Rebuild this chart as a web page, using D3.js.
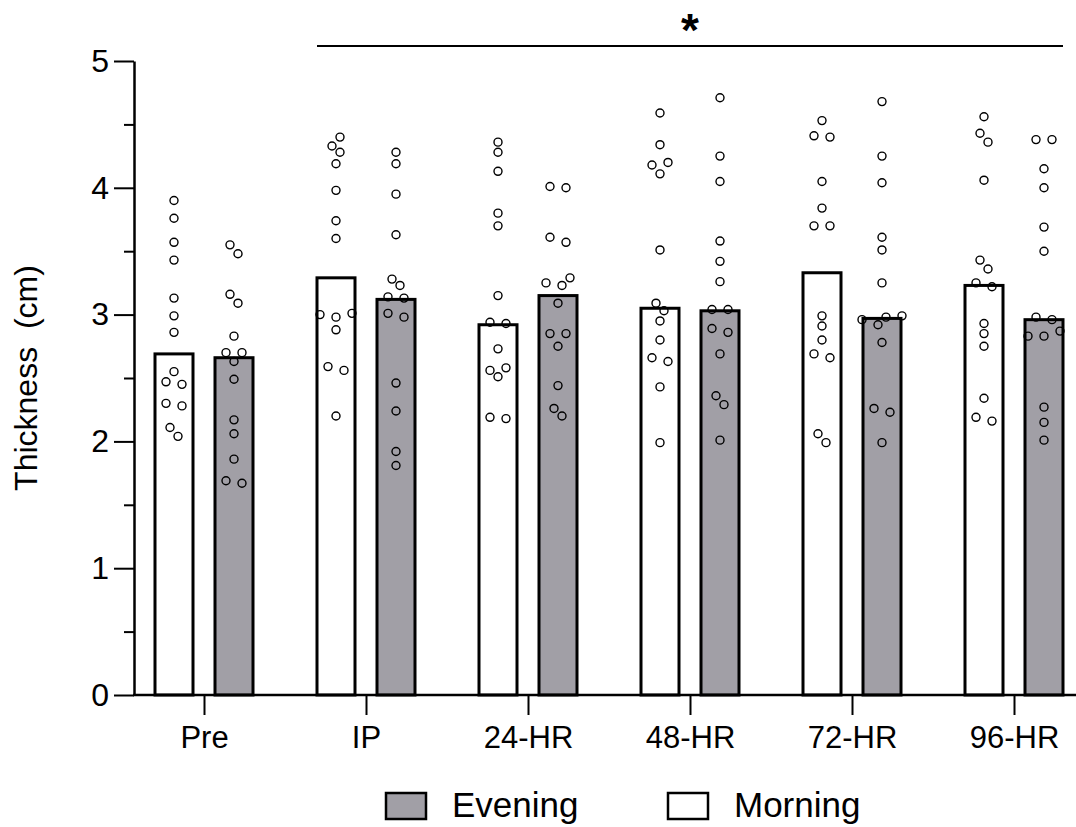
<!DOCTYPE html>
<html>
<head>
<meta charset="utf-8">
<script src="https://cdn.jsdelivr.net/npm/d3@7"></script>
<style>
  body { margin: 0; background: #fff; }
  svg { display: block; font-family: "Liberation Sans", Arial, sans-serif; }
</style>
</head>
<body>
<div id="chart"></div>
<script>
// categories
var timepoints = ["Pre", "IP", "24-HR", "48-HR", "72-HR", "96-HR"];
var legendItems = ["Evening", "Morning"];

// bar heights (median)
var morningBars = [2.69, 3.29, 2.92, 3.05, 3.33, 3.23];
var eveningBars = [2.66, 3.12, 3.15, 3.03, 2.97, 2.96];

// individual subjects, one list per time point
var morningPoints = [
    [3.90, 3.76, 3.57, 3.43, 3.13, 2.99, 2.86, 2.55, 2.45, 2.47, 2.28, 2.30, 2.11, 2.04],
    [4.40, 4.33, 4.28, 4.19, 3.98, 3.74, 3.60, 3.00, 2.98, 3.01, 2.88, 2.56, 2.59, 2.20],
    [4.36, 4.28, 4.13, 3.80, 3.70, 3.15, 2.94, 2.93, 2.73, 2.58, 2.51, 2.56, 2.18, 2.19],
    [4.59, 4.34, 4.18, 4.20, 4.11, 3.51, 3.09, 3.03, 2.95, 2.80, 2.63, 2.66, 2.43, 1.99],
    [4.53, 4.40, 4.41, 4.05, 3.84, 3.70, 3.70, 2.99, 2.91, 2.80, 2.66, 2.69, 2.06, 1.99],
    [4.56, 4.43, 4.36, 4.06, 3.43, 3.36, 3.22, 3.25, 2.93, 2.85, 2.75, 2.34, 2.16, 2.19]
];
var eveningPoints = [
    [3.55, 3.48, 3.16, 3.09, 2.83, 2.70, 2.70, 2.63, 2.49, 2.17, 2.06, 1.86, 1.69, 1.67],
    [4.28, 4.19, 3.95, 3.63, 3.28, 3.23, 3.13, 3.14, 2.98, 3.01, 2.46, 2.24, 1.92, 1.81],
    [4.00, 4.01, 3.57, 3.61, 3.25, 3.29, 3.23, 3.09, 2.85, 2.85, 2.75, 2.44, 2.26, 2.20],
    [4.71, 4.25, 4.05, 3.58, 3.42, 3.26, 3.04, 3.04, 2.86, 2.89, 2.69, 2.36, 2.29, 2.01],
    [4.68, 4.25, 4.04, 3.61, 3.51, 3.25, 2.96, 2.99, 2.98, 2.92, 2.78, 2.26, 2.23, 1.99],
    [4.38, 4.38, 4.15, 4.00, 3.69, 3.50, 2.98, 2.96, 2.87, 2.83, 2.83, 2.27, 2.15, 2.01]
];

// axis ticks
var yTicks = [0, 1, 2, 3, 4, 5];
var yMinorTicks = [0.5, 1.5, 2.5, 3.5, 4.5];
var yTitle = "Thickness  (cm)";
var sigMark = "*";

//Width and height
var w = 1076;
var h = 827;
var barW = 38;
var barOff = 30;
var dotR = 4;
var grey = "#a19fa6";

var svg = d3.select("#chart")
    .append("svg")
    .attr("width", w)
    .attr("height", h);

//Scales
var xScale = d3.scalePoint()
    .domain(timepoints)
    .range([204, 1014]);

var yScale = d3.scaleLinear()
    .domain([0, 5])
    .range([695, 61]);

// simple beeswarm: place low values first, push sideways on collision,
// then centre every row of touching points under the bar
function swarm(values) {
    var minD = 9.5, step = 8;
    var pts = values.map(function(v) { return {v: v, y: yScale(v), dx: 0}; });
    var order = pts.slice().sort(function(a, b) { return a.v - b.v; });
    var placed = [];
    order.forEach(function(p) {
        for (var k = 0; k < 20; k++) {
            var off = k === 0 ? 0 : (k % 2 ? -1 : 1) * Math.ceil(k / 2) * step;
            var ok = placed.every(function(q) {
                return (q.dx - off) * (q.dx - off) + (q.y - p.y) * (q.y - p.y) >= minD * minD;
            });
            if (ok) { p.dx = off; break; }
        }
        placed.push(p);
    });
    var groups = [], cur = [];
    order.forEach(function(p, i) {
        if (i > 0 && Math.abs(order[i - 1].y - p.y) >= minD) { groups.push(cur); cur = []; }
        cur.push(p);
    });
    groups.push(cur);
    groups.forEach(function(g) {
        if (g.length < 2) return;
        var lo = d3.min(g, function(p) { return p.dx; });
        var hi = d3.max(g, function(p) { return p.dx; });
        g.forEach(function(p) { p.dx -= (lo + hi) / 2; });
    });
    return pts;
}

var series = [
    {name: "Morning", bars: morningBars, points: morningPoints, off: -barOff, fill: "#fff"},
    {name: "Evening", bars: eveningBars, points: eveningPoints, off: barOff, fill: grey}
];

//Bars
series.forEach(function(s) {
    svg.append("g")
        .selectAll("rect")
        .data(s.bars)
        .enter()
        .append("rect")
        .attr("x", function(d, i) { return xScale(timepoints[i]) + s.off - barW / 2; })
        .attr("y", function(d) { return yScale(d); })
        .attr("width", barW)
        .attr("height", function(d) { return yScale(0) - yScale(d); })
        .attr("fill", s.fill)
        .attr("stroke", "#000")
        .attr("stroke-width", 3);
});

//Create X axis
svg.append("g")
    .attr("class", "axis")
    .attr("transform", "translate(0," + yScale(0) + ")")
    .call(d3.axisBottom(xScale).tickSize(20).tickPadding(11))
    .call(function(g) {
        g.select(".domain").remove();
        g.append("line")
            .attr("x1", 133).attr("x2", w)
            .attr("stroke", "#000").attr("stroke-width", 2.5);
        g.selectAll(".tick line").attr("stroke-width", 2);
        g.selectAll("text").attr("fill", "#000").style("font-size", "31px")
            .style("font-family", "Liberation Sans, Arial, sans-serif");
    });

//Create Y axis
svg.append("g")
    .attr("class", "axis")
    .attr("transform", "translate(134,0)")
    .call(d3.axisLeft(yScale).tickValues(yTicks).tickFormat(d3.format("d"))
        .tickSize(20).tickPadding(5).tickSizeOuter(0))
    .call(function(g) {
        g.select(".domain").attr("stroke-width", 2.5);
        g.selectAll(".tick line").attr("stroke-width", 2);
        g.selectAll("text").attr("fill", "#000").style("font-size", "32px")
            .style("font-family", "Liberation Sans, Arial, sans-serif");
    });

// minor ticks
svg.append("g")
    .attr("transform", "translate(134,0)")
    .call(d3.axisLeft(yScale).tickValues(yMinorTicks).tickSize(10).tickFormat(""))
    .call(function(g) {
        g.select(".domain").remove();
        g.selectAll(".tick line").attr("stroke-width", 2);
    });

// y title
svg.append("text")
    .attr("transform", "translate(37,378) rotate(-90)")
    .attr("text-anchor", "middle")
    .style("white-space", "pre")
    .style("font-size", "32px")
    .text(yTitle);

//Generate circles last, so they appear in front
series.forEach(function(s) {
    s.points.forEach(function(vals, i) {
        var cx = xScale(timepoints[i]) + s.off;
        svg.append("g")
            .selectAll("circle")
            .data(swarm(vals))
            .enter()
            .append("circle")
            .attr("cx", function(d) { return cx + d.dx; })
            .attr("cy", function(d) { return d.y; })
            .attr("r", dotR)
            .attr("fill", "none")
            .attr("stroke", "#000")
            .attr("stroke-width", 1.4);
    });
});

// significance bar over IP..96-HR
var sx1 = xScale("IP") - barOff - barW / 2;
var sx2 = xScale("96-HR") + barOff + barW / 2;
svg.append("line")
    .attr("x1", sx1).attr("x2", sx2)
    .attr("y1", 46).attr("y2", 46)
    .attr("stroke", "#000")
    .attr("stroke-width", 2);
svg.append("text")
    .attr("x", (sx1 + sx2) / 2)
    .attr("y", 46)
    .attr("text-anchor", "middle")
    .style("font-size", "46px")
    .style("font-weight", "bold")
    .text(sigMark);

// legend
var legendX = [386, 668];
var legend = svg.append("g")
    .selectAll("g")
    .data(legendItems)
    .enter()
    .append("g")
    .attr("transform", function(d, i) { return "translate(" + legendX[i] + ",793)"; });
legend.append("rect")
    .attr("width", 40)
    .attr("height", 26)
    .attr("fill", function(d) { return d === "Evening" ? grey : "#fff"; })
    .attr("stroke", "#000")
    .attr("stroke-width", 2.5);
legend.append("text")
    .attr("x", 66)
    .attr("y", 24)
    .style("font-size", "35px")
    .text(function(d) { return d; });
</script>
</body>
</html>
